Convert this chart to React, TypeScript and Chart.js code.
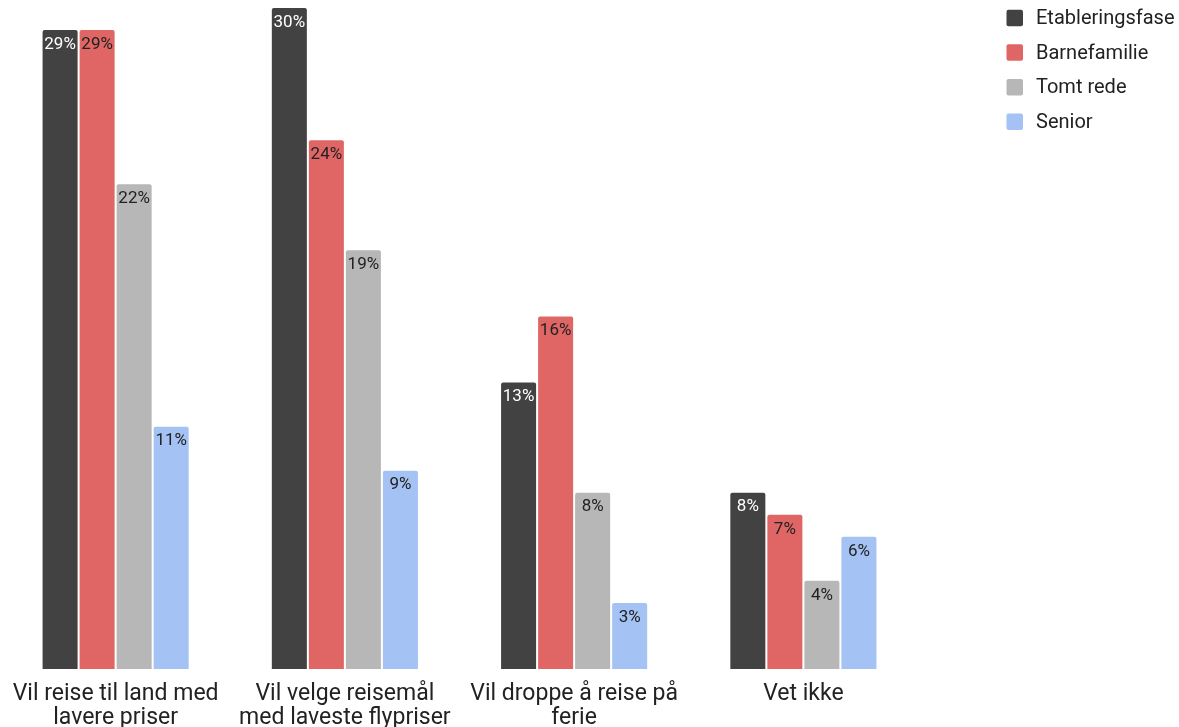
import React, { useEffect, useRef } from "react";
import { Chart, registerables } from "chart.js";

Chart.register(...registerables);

const categories: string[][] = [
  ["Vil reise til land med", "lavere priser"],
  ["Vil velge reisemål", "med laveste flypriser"],
  ["Vil droppe å reise på", "ferie"],
  ["Vet ikke"],
];
const seriesNames = ["Etableringsfase", "Barnefamilie", "Tomt rede", "Senior"];
const etablering = [29, 30, 13, 8];
const barnefamilie = [29, 24, 16, 7];
const tomtRede = [22, 19, 8, 4];
const senior = [11, 9, 3, 6];
const seriesColors = ["#424242", "#e06666", "#b7b7b7", "#a4c2f4"];
const labelColors = ["#ffffff", "#222222", "#222222", "#222222"];
const yMax = 30;

const FONT = "Roboto, 'Noto Sans', sans-serif";

const valueLabelPlugin = {
  id: "valueLabels",
  afterDatasetsDraw(chart: any) {
    const ctx = chart.ctx;
    ctx.save();
    ctx.font = `17px ${FONT}`;
    ctx.textAlign = "center";
    ctx.textBaseline = "middle";
    chart.data.datasets.forEach((ds: any, di: number) => {
      const meta = chart.getDatasetMeta(di);
      meta.data.forEach((bar: any, i: number) => {
        ctx.fillStyle = labelColors[di];
        ctx.fillText(`${ds.data[i]}%`, bar.x, bar.y + 14.5);
      });
    });
    ctx.restore();
  },
};

const legendPlugin = {
  id: "customLegend",
  afterDraw(chart: any) {
    const ctx = chart.ctx;
    ctx.save();
    const boxX = 1006.5;
    const textX = 1036;
    const startY = 18;
    const pitch = 34.6;
    const size = 16.5;
    ctx.font = `20px ${FONT}`;
    ctx.textBaseline = "middle";
    ctx.textAlign = "left";
    chart.data.datasets.forEach((ds: any, i: number) => {
      const cy = startY + i * pitch;
      ctx.fillStyle = ds.backgroundColor;
      ctx.beginPath();
      (ctx as any).roundRect(boxX, cy - size / 2, size, size, 2);
      ctx.fill();
      ctx.fillStyle = "#222222";
      ctx.fillText(ds.label, textX, cy + 1);
    });
    ctx.restore();
  },
};

export default function App() {
  const canvasRef = useRef<HTMLCanvasElement | null>(null);

  useEffect(() => {
    if (!canvasRef.current) return;
    const allData = [etablering, barnefamilie, tomtRede, senior];
    const chart = new Chart(canvasRef.current, {
      type: "bar",
      data: {
        labels: categories,
        datasets: allData.map((d, i) => ({
          label: seriesNames[i],
          data: d,
          backgroundColor: seriesColors[i],
          borderRadius: { topLeft: 2, topRight: 2, bottomLeft: 0, bottomRight: 0 },
          borderSkipped: "bottom",
          categoryPercentage: 0.646,
          barPercentage: 0.946,
        })),
      },
      options: {
        animation: false,
        responsive: false,
        maintainAspectRatio: false,
        layout: { padding: { left: 1, right: 261, top: 8, bottom: 0 } },
        plugins: {
          legend: { display: false },
          tooltip: { enabled: false },
        },
        scales: {
          x: {
            grid: { display: false, drawTicks: false },
            border: { display: false },
            ticks: {
              color: "#222222",
              font: { family: FONT, size: 23, lineHeight: "23.5px" },
              padding: 13.5,
              maxRotation: 0,
              autoSkip: false,
            },
            afterFit: (s: any) => {
              s.height = 58;
              s.paddingLeft = 0;
              s.paddingRight = 0;
            },
          },
          y: {
            display: false,
            min: 0,
            max: yMax,
          },
        },
      },
      plugins: [valueLabelPlugin, legendPlugin],
    });
    return () => chart.destroy();
  }, []);

  return (
    <div style={{ position: "fixed", left: 0, top: 0, width: 1179, height: 727, background: "#fff" }}>
      <canvas ref={canvasRef} width={1179} height={727} style={{ width: 1179, height: 727 }} />
    </div>
  );
}
